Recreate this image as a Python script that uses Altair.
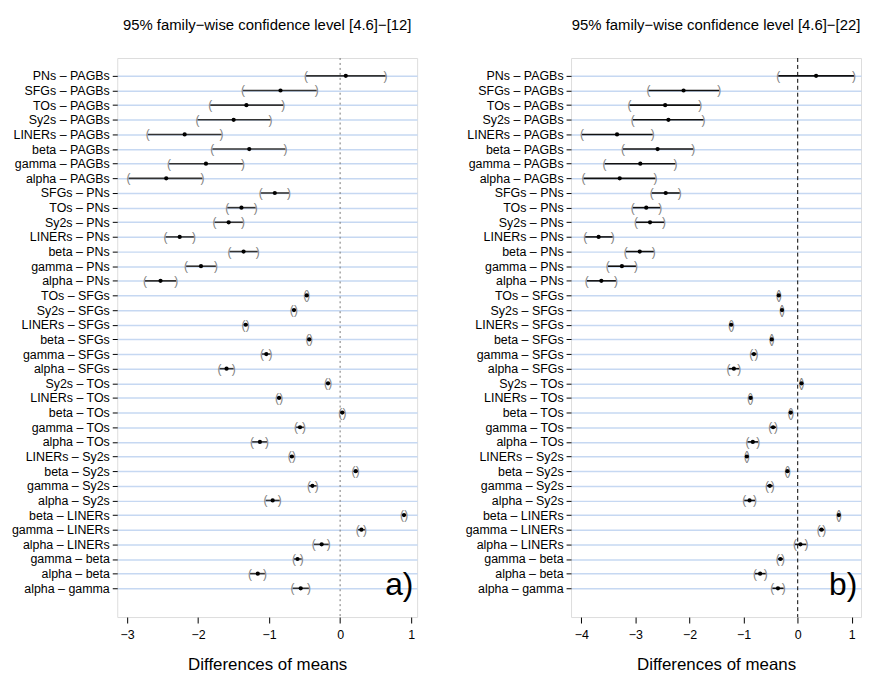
import json
import altair as alt
import pandas as pd

comparisons = [
    "PNs – PAGBs", "SFGs – PAGBs", "TOs – PAGBs", "Sy2s – PAGBs", "LINERs – PAGBs",
    "beta – PAGBs", "gamma – PAGBs", "alpha – PAGBs",
    "SFGs – PNs", "TOs – PNs", "Sy2s – PNs", "LINERs – PNs", "beta – PNs",
    "gamma – PNs", "alpha – PNs",
    "TOs – SFGs", "Sy2s – SFGs", "LINERs – SFGs", "beta – SFGs", "gamma – SFGs",
    "alpha – SFGs",
    "Sy2s – TOs", "LINERs – TOs", "beta – TOs", "gamma – TOs", "alpha – TOs",
    "LINERs – Sy2s", "beta – Sy2s", "gamma – Sy2s", "alpha – Sy2s",
    "beta – LINERs", "gamma – LINERs", "alpha – LINERs",
    "gamma – beta", "alpha – beta", "alpha – gamma",
]

# panel a) [4.6]-[12]
diff_a = [0.08, -0.84, -1.32, -1.50, -2.19, -1.28, -1.89, -2.45,
          -0.92, -1.39, -1.57, -2.26, -1.36, -1.96, -2.53,
          -0.47, -0.65, -1.33, -0.435, -1.04, -1.60,
          -0.17, -0.86, 0.03, -0.565, -1.13,
          -0.68, 0.22, -0.39, -0.95,
          0.90, 0.30, -0.26,
          -0.60, -1.16, -0.555]
lwr_a = [-0.48, -1.37, -1.83, -2.01, -2.71, -1.80, -2.41, -2.98,
         -1.12, -1.59, -1.77, -2.46, -1.56, -2.17, -2.75,
         -0.49, -0.68, -1.36, -0.46, -1.10, -1.70,
         -0.20, -0.89, 0.00, -0.62, -1.24,
         -0.71, 0.19, -0.44, -1.05,
         0.87, 0.25, -0.37,
         -0.65, -1.27, -0.67]
upr_a = [0.64, -0.33, -0.80, -0.98, -1.67, -0.77, -1.37, -1.94,
         -0.72, -1.19, -1.37, -2.06, -1.16, -1.75, -2.31,
         -0.45, -0.62, -1.30, -0.41, -0.98, -1.50,
         -0.14, -0.83, 0.06, -0.51, -1.03,
         -0.65, 0.25, -0.33, -0.85,
         0.93, 0.35, -0.16,
         -0.54, -1.06, -0.44]

# panel b) [4.6]-[22]
diff_b = [0.34, -2.11, -2.45, -2.39, -3.34, -2.59, -2.91, -3.29,
          -2.44, -2.80, -2.73, -3.68, -2.92, -3.25, -3.63,
          -0.35, -0.29, -1.23, -0.48, -0.81, -1.18,
          0.07, -0.87, -0.13, -0.455, -0.83,
          -0.94, -0.19, -0.515, -0.89,
          0.76, 0.44, 0.05,
          -0.32, -0.695, -0.365]
lwr_b = [-0.36, -2.76, -3.11, -3.05, -3.99, -3.23, -3.57, -3.96,
         -2.70, -3.05, -2.99, -3.93, -3.18, -3.51, -3.90,
         -0.37, -0.31, -1.25, -0.50, -0.86, -1.28,
         0.05, -0.90, -0.15, -0.51, -0.93,
         -0.96, -0.21, -0.57, -0.99,
         0.74, 0.39, -0.05,
         -0.37, -0.79, -0.47]
upr_b = [1.04, -1.45, -1.80, -1.74, -2.68, -1.93, -2.26, -2.63,
         -2.18, -2.54, -2.47, -3.42, -2.66, -2.99, -3.36,
         -0.33, -0.27, -1.20, -0.46, -0.76, -1.08,
         0.09, -0.85, -0.10, -0.40, -0.73,
         -0.92, -0.16, -0.46, -0.79,
         0.78, 0.49, 0.16,
         -0.27, -0.59, -0.26]

titles = ["95% family−wise confidence level [4.6]−[12]",
          "95% family−wise confidence level [4.6]−[22]"]
panel_tags = ["a)", "b)"]
x_domains = [[-3.14, 1.085], [-4.19, 1.17]]
x_ticks = [[-3, -2, -1, 0, 1], [-4, -3, -2, -1, 0, 1]]
zero_dash = [[2, 3], [4, 3]]
zero_color = ["#777777", "#000000"]
seg_color = ["#333333", "#111111"]

FONT = "Liberation Sans"
N = len(comparisons)
Y_DOMAIN = [-1.221, 36.966]
label_expr = json.dumps(comparisons, ensure_ascii=False) + "[datum.value]"


def panel(diff, lwr, upr, title, tag, xdom, ticks, dash, zcol, scol, width):
    df = pd.DataFrame({"idx": list(range(N)), "comp": comparisons, "diff": diff,
                       "lwr": lwr, "upr": upr,
                       "lp": ["("] * N, "rp": [")"] * N})
    xscale = alt.Scale(domain=xdom, nice=False, zero=False)
    yscale = alt.Scale(domain=Y_DOMAIN, nice=False, zero=False, reverse=True)
    yenc = alt.Y("idx:Q", scale=yscale,
                 axis=alt.Axis(title=None, domain=False, ticks=True, tickSize=5,
                               tickColor="black", labelFontSize=12.5, labelColor="black",
                               labelPadding=3, labelFont=FONT, grid=True,
                               values=list(range(N)), tickCount=N, labelExpr=label_expr,
                               labelOverlap=False, labelBound=False, labelFlush=False,
                               gridColor="#c6d8f2", gridWidth=1.5))
    xaxis = alt.Axis(values=ticks, domain=False, tickSize=6, tickColor="black",
                     labelFontSize=12.5, labelColor="black", labelPadding=6,
                     labelFont=FONT, grid=False, title="Differences of means",
                     titleFontSize=17, titleFont=FONT, titleFontWeight="normal",
                     titleColor="black", titlePadding=15, format="d")
    base = alt.Chart(df)
    seg = base.mark_rule(color=scol, strokeWidth=1.6).encode(
        x=alt.X("lwr:Q", scale=xscale, axis=xaxis), x2="upr:Q", y=yenc)
    lcap = base.mark_text(color="#808080", fontSize=12, font=FONT, baseline="middle",
                          align="center").encode(x="lwr:Q", y="idx:Q", text="lp:N")
    rcap = base.mark_text(color="#808080", fontSize=12, font=FONT, baseline="middle",
                          align="center").encode(x="upr:Q", y="idx:Q", text="rp:N")
    pts = base.mark_point(filled=True, color="black", size=18, opacity=1).encode(
        x="diff:Q", y="idx:Q")
    zero = alt.Chart(pd.DataFrame({"z": [0]})).mark_rule(
        color=zcol, strokeDash=dash, strokeWidth=1).encode(x="z:Q")
    lab = alt.Chart(pd.DataFrame({"t": [tag]})).mark_text(
        fontSize=32, font=FONT, color="black", align="center", baseline="middle").encode(
        x=alt.value(width - 18), y=alt.value(531), text="t:N")
    return alt.layer(zero, seg, lcap, rcap, pts, lab).properties(
        width=width, height=563,
        title=alt.TitleParams(title, fontSize=15, font=FONT, fontWeight="normal",
                              color="black", offset=25, anchor="middle"))


pa = panel(diff_a, lwr_a, upr_a, titles[0], panel_tags[0], x_domains[0], x_ticks[0],
           zero_dash[0], zero_color[0], seg_color[0], 302)
pb = panel(diff_b, lwr_b, upr_b, titles[1], panel_tags[1], x_domains[1], x_ticks[1],
           zero_dash[1], zero_color[1], seg_color[1], 292)

chart = alt.hconcat(pa, pb, spacing=46).configure_view(
    stroke="black", strokeWidth=1.2).configure(font=FONT).properties(
    background="white", padding={"left": 2, "top": 7, "right": 0, "bottom": 0})

chart.save("out.html", embed_options={"renderer": "svg", "actions": False})
